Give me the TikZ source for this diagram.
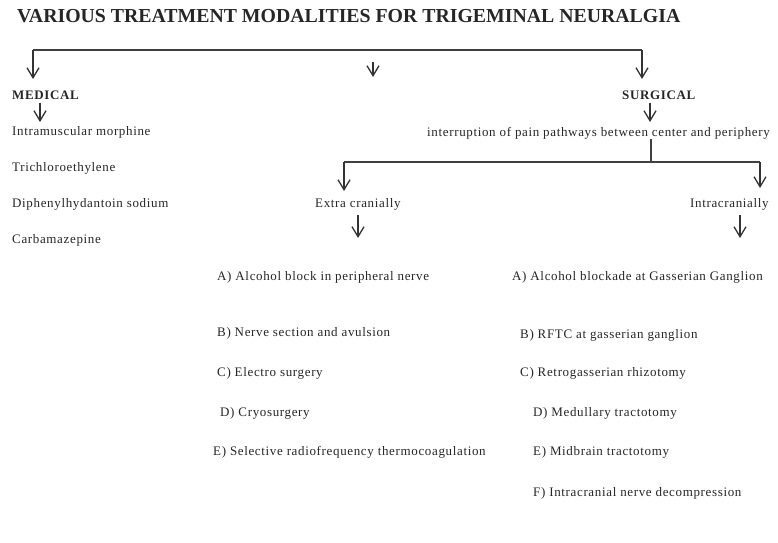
\documentclass[tikz,border=0pt]{standalone}
\usepackage{fontspec}
\setmainfont{Liberation Serif}[LetterSpace=5]
\newfontfamily\headfont{Liberation Serif}
\usetikzlibrary{arrows.meta}

\begin{document}
\begin{tikzpicture}[x=1pt,y=-1pt,font=\fontsize{13}{15}\selectfont,
    item/.style={anchor=west,inner sep=0pt,black!85},
    head/.style={anchor=west,inner sep=0pt,black!85,font=\fontsize{13}{15}\selectfont\bfseries},
    link/.style={line width=1.1pt,black!75},
    flow/.style={-{Straight Barb[length=10pt,width=12pt]},line width=1.3pt,black!80}]
  \useasboundingbox (0,0) rectangle (778,542);
  \node[anchor=west,inner sep=0pt,black!85,font=\headfont\fontsize{19.8}{22}\selectfont\bfseries] (title) at (17,16)
       {VARIOUS TREATMENT MODALITIES FOR TRIGEMINAL NEURALGIA};

  \node[head] (med)  at (12,95)  {MEDICAL};
  \node[head] (surg) at (622,95) {SURGICAL};
  \node[item] (path) at (427,133) {interruption of pain pathways between center and periphery};
  \node[item] (extra) at (315,204) {Extra cranially};
  \node[item] (intra) at (690,204) {Intracranially};

  \foreach \n/\y/\t in {ims/132/Intramuscular morphine,tri/168/Trichloroethylene,
                        dph/204/Diphenylhydantoin sodium,cbz/240/Carbamazepine}
    \node[item] (\n) at (12,\y) {\t};
  \foreach \n/\x/\y/\t in {exa/217/277/A) Alcohol block in peripheral nerve,
                           exb/217/333/B) Nerve section and avulsion,
                           exc/217/373/C) Electro surgery,
                           exd/220/413/D) Cryosurgery,
                           exe/213/452/E) Selective radiofrequency thermocoagulation}
    \node[item] (\n) at (\x,\y) {\t};
  \foreach \n/\x/\y/\t in {ina/512/277/A) Alcohol blockade at Gasserian Ganglion,
                           inb/520/335/B) RFTC at gasserian ganglion,
                           inc/520/373/C) Retrogasserian rhizotomy,
                           ind/533/413/D) Medullary tractotomy,
                           ine/533/452/E) Midbrain tractotomy,
                           inf/533/493/F) Intracranial nerve decompression}
    \node[item] (\n) at (\x,\y) {\t};

  % top bar
  \coordinate (barL) at (33,50);
  \coordinate (barR) at (642,50);
  \coordinate (medTip) at (33,79);
  \coordinate (surgTip) at (642,79);
  \coordinate (midA) at (373,62);
  \coordinate (midB) at (373,77);
  \draw[link] (barL) -- (barR);
  \draw[flow] (barL) -- (medTip);
  \draw[flow] (barR) -- (surgTip);
  \draw[flow] (midA) -- (midB);

  % medical
  \coordinate (imsTip) at (40,122);
  \draw[flow] (med.south -| imsTip) ++(0,3) -- (imsTip);

  % surgical
  \coordinate (pathTip) at (650,122);
  \coordinate (split) at (651,162);
  \coordinate (exL) at (344,162);
  \coordinate (inR) at (760,162);
  \coordinate (exTip) at (344,191);
  \coordinate (inTip) at (760,188);
  \draw[flow] (surg.south -| pathTip) ++(0,3) -- (pathTip);
  \draw[link] (path.south -| split) -- (split);
  \draw[link] (exL) -- (inR);
  \draw[flow] (exL) -- (exTip);
  \draw[flow] (inR) -- (inTip);

  \coordinate (exaTip) at (358,238);
  \coordinate (inaTip) at (740,238);
  \draw[flow] (extra.south -| exaTip) ++(0,5) -- (exaTip);
  \draw[flow] (intra.south -| inaTip) ++(0,5) -- (inaTip);
\end{tikzpicture}
\end{document}
